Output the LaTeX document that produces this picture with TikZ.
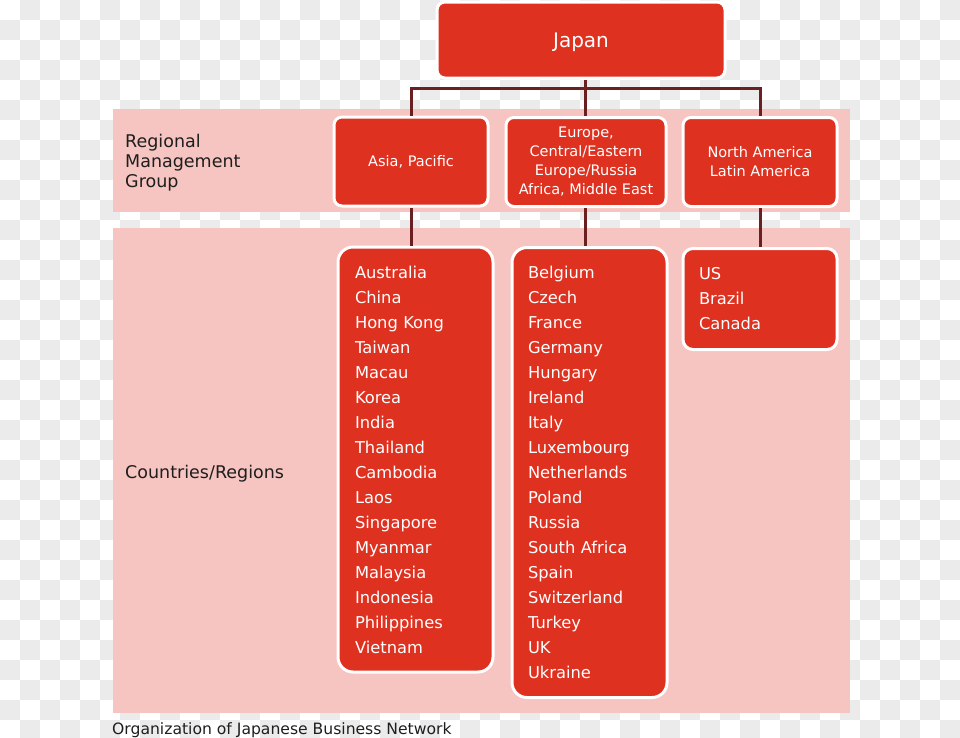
\documentclass[tikz,border=0pt]{standalone}
\usepackage{fontspec}
\setmainfont{DejaVu Sans}
\definecolor{boxred}{HTML}{DF3120}
\definecolor{bandpink}{HTML}{F6C5C1}
\definecolor{connbrown}{HTML}{6A2020}
\definecolor{checkgray}{HTML}{EBEBEB}
\definecolor{labeltext}{HTML}{1E1E1E}
\begin{document}
\begin{tikzpicture}[x=1pt,y=-1pt,
  redbox/.style={draw=white, line width=3pt, fill=boxred, text=white, rounded corners=8pt, inner sep=0pt},
  topbox/.style={redbox, text depth=0pt, font=\fontsize{20}{24}\selectfont},
  regbox/.style={redbox, align=center, font=\fontsize{14.5}{19}\selectfont},
  listbox/.style={redbox, rounded corners=15pt, align=left, font=\fontsize{16.3}{25}\selectfont},
  sidelabel/.style={anchor=west, align=left, text=labeltext, inner sep=0pt, font=\fontsize{17.5}{20}\selectfont},
  conn/.style={draw=connbrown, line width=3pt}]
\useasboundingbox (0,0) rectangle (960,737);
% checkerboard background
\begin{scope}
\clip (0,0) rectangle (960,737);
\foreach \i in {0,...,47}{
  \foreach \j in {0,...,36}{
    \ifodd\numexpr\i+\j\relax
      \fill[checkgray] (\i*20,\j*20) rectangle (\i*20+20,\j*20+20);
    \fi
  }
}
\end{scope}
% bands
\fill[bandpink] (113,109) rectangle (850,212);
\fill[bandpink] (113,228) rectangle (850,713);
% top
\node[topbox, minimum width=288pt, minimum height=76pt] (japan) at (581,40) {Japan};
% regional boxes
\node[regbox, minimum width=154pt, minimum height=89pt] (asia) at (411,161.5) {Asia, Pacific};
\node[regbox, minimum width=160pt, minimum height=89pt] (eur) at (586,162) {Europe,\\Central/Eastern\\Europe/Russia\\Africa, Middle East};
\node[regbox, minimum width=154pt, minimum height=89pt] (na) at (760,162) {North America\\Latin America};
% list boxes
\node[listbox, minimum width=155pt, minimum height=425pt, text width=121pt] (asiaList) at (415.5,459.5)
 {Australia\\China\\Hong Kong\\Taiwan\\Macau\\Korea\\India\\Thailand\\Cambodia\\Laos\\Singapore\\Myanmar\\Malaysia\\Indonesia\\Philippines\\Vietnam};
\node[listbox, minimum width=155pt, minimum height=450pt, text width=123pt] (eurList) at (589.5,472.5)
 {Belgium\\Czech\\France\\Germany\\Hungary\\Ireland\\Italy\\Luxembourg\\Netherlands\\Poland\\Russia\\South Africa\\Spain\\Switzerland\\Turkey\\UK\\Ukraine};
\node[listbox, rounded corners=10pt, minimum width=154pt, minimum height=101pt, text width=122pt] (naList) at (760,299)
 {US\\Brazil\\Canada};
% connectors
\coordinate (bus) at (585,88);
\draw[conn] (japan.south -| bus) -- (bus);
\draw[conn] (bus) -- (bus |- eur.north);
\draw[conn] (asia.north) |- (bus) -| (na.north);
\draw[conn] (asia.south) -- (asia.south |- asiaList.north);
\draw[conn] (bus |- eur.south) -- (bus |- eurList.north);
\draw[conn] (na.south) -- (na.south |- naList.north);
% side labels
\node[sidelabel] (reglabel) at (125,163) {Regional\\Management\\Group};
\node[sidelabel] (ctrylabel) at (125,474) {Countries/Regions};
\node[anchor=west, inner sep=0pt, text=labeltext, font=\fontsize{15.6}{18}\selectfont] (caption) at (112,730) {Organization of Japanese Business Network};
\end{tikzpicture}
\end{document}
